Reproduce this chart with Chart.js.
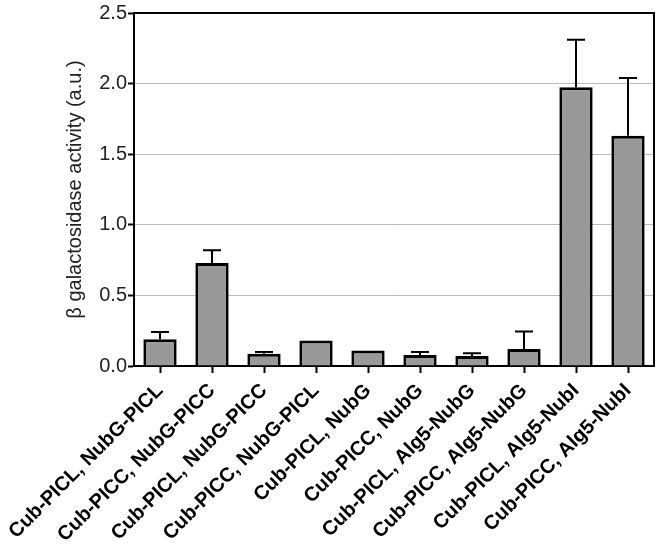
<!DOCTYPE html>
<html>
<head>
<meta charset="utf-8">
<script src="https://cdn.jsdelivr.net/npm/chart.js@4"></script>
<style>
  html, body { margin: 0; padding: 0; background: #fff; }
  #wrap { width: 662px; height: 550px; }
</style>
</head>
<body>
<div id="wrap"><canvas id="chart" width="662" height="550"></canvas></div>
<script>
const LABELS = [
  "Cub-PICL, NubG-PICL",
  "Cub-PICC, NubG-PICC",
  "Cub-PICL, NubG-PICC",
  "Cub-PICC, NubG-PICL",
  "Cub-PICL, NubG",
  "Cub-PICC, NubG",
  "Cub-PICL, Alg5-NubG",
  "Cub-PICC, Alg5-NubG",
  "Cub-PICL, Alg5-NubI",
  "Cub-PICC, Alg5-NubI",
];
const MEANS = [0.19, 0.73, 0.087, 0.18, 0.11, 0.078, 0.07, 0.12, 1.975, 1.63];
const ERR_TOP = [0.24, 0.82, 0.10, 0.18, 0.11, 0.099, 0.09, 0.245, 2.31, 2.04];
const Y_TICKS = [0, 0.5, 1.0, 1.5, 2.0, 2.5];

const FONT = "'Liberation Sans', Arial, sans-serif";

// upward-only error bars with caps
const errorBars = {
  id: "errorBars",
  afterDatasetsDraw(chart) {
    const ctx = chart.ctx;
    const y = chart.scales.y;
    const meta = chart.getDatasetMeta(0);
    ctx.save();
    ctx.strokeStyle = "#000";
    ctx.lineWidth = 2;
    meta.data.forEach((bar, i) => {
      if (ERR_TOP[i] <= MEANS[i]) return;
      const yt = y.getPixelForValue(ERR_TOP[i]);
      ctx.beginPath();
      ctx.moveTo(bar.x, bar.y);
      ctx.lineTo(bar.x, yt);
      ctx.moveTo(bar.x - 9, yt);
      ctx.lineTo(bar.x + 9, yt);
      ctx.stroke();
    });
    ctx.restore();
  },
};

// top and right frame lines
const frame = {
  id: "frame",
  afterDatasetsDraw(chart) {
    const { ctx, chartArea: a } = chart;
    ctx.save();
    ctx.strokeStyle = "#000";
    ctx.lineWidth = 2;
    ctx.beginPath();
    ctx.moveTo(a.left, a.top);
    ctx.lineTo(a.right, a.top);
    ctx.lineTo(a.right, a.bottom);
    ctx.stroke();
    ctx.restore();
  },
};

new Chart(document.getElementById("chart"), {
  type: "bar",
  data: {
    labels: LABELS,
    datasets: [{
      data: MEANS,
      backgroundColor: "#999999",
      borderColor: "#000",
      borderWidth: 3,
      barPercentage: 0.64,
      categoryPercentage: 1,
    }],
  },
  options: {
    responsive: false,
    animation: false,
    events: [],
    layout: { padding: { left: 55, top: 13, right: 8, bottom: 0 } },
    plugins: { legend: { display: false }, tooltip: { enabled: false } },
    scales: {
      x: {
        grid: { offset: false, drawOnChartArea: false, tickLength: 7, tickColor: "#000", tickWidth: 2 },
        border: { color: "#000", width: 2 },
        ticks: {
          color: "#000",
          font: { family: FONT, size: 20, weight: "bold" },
          minRotation: 45,
          maxRotation: 45,
          autoSkip: false,
          padding: 6,
        },
        afterFit: (s) => {
          s.height = 184;
          // labels may hang left of the plot; don't let them push the plot area
          s.paddingLeft = 0;
          s.paddingRight = 0;
        },
      },
      y: {
        min: 0,
        max: 2.5,
        afterBuildTicks: (s) => { s.ticks = Y_TICKS.map((v) => ({ value: v })); },
        grid: { color: "#bcbcbc", lineWidth: 1, tickLength: 6, tickColor: "#000", tickWidth: 2 },
        border: { color: "#000", width: 2 },
        ticks: {
          color: "#222",
          font: { family: FONT, size: 20 },
          padding: 1,
          callback: (v) => Number(v).toFixed(1),
        },
        title: {
          display: true,
          text: "β galactosidase activity (a.u.)",
          color: "#222",
          font: { family: FONT, size: 20 },
          padding: { top: 8, bottom: 0 },
        },
        afterFit: (s) => { s.width = 79; },
      },
    },
  },
  plugins: [errorBars, frame],
});
</script>
</body>
</html>
